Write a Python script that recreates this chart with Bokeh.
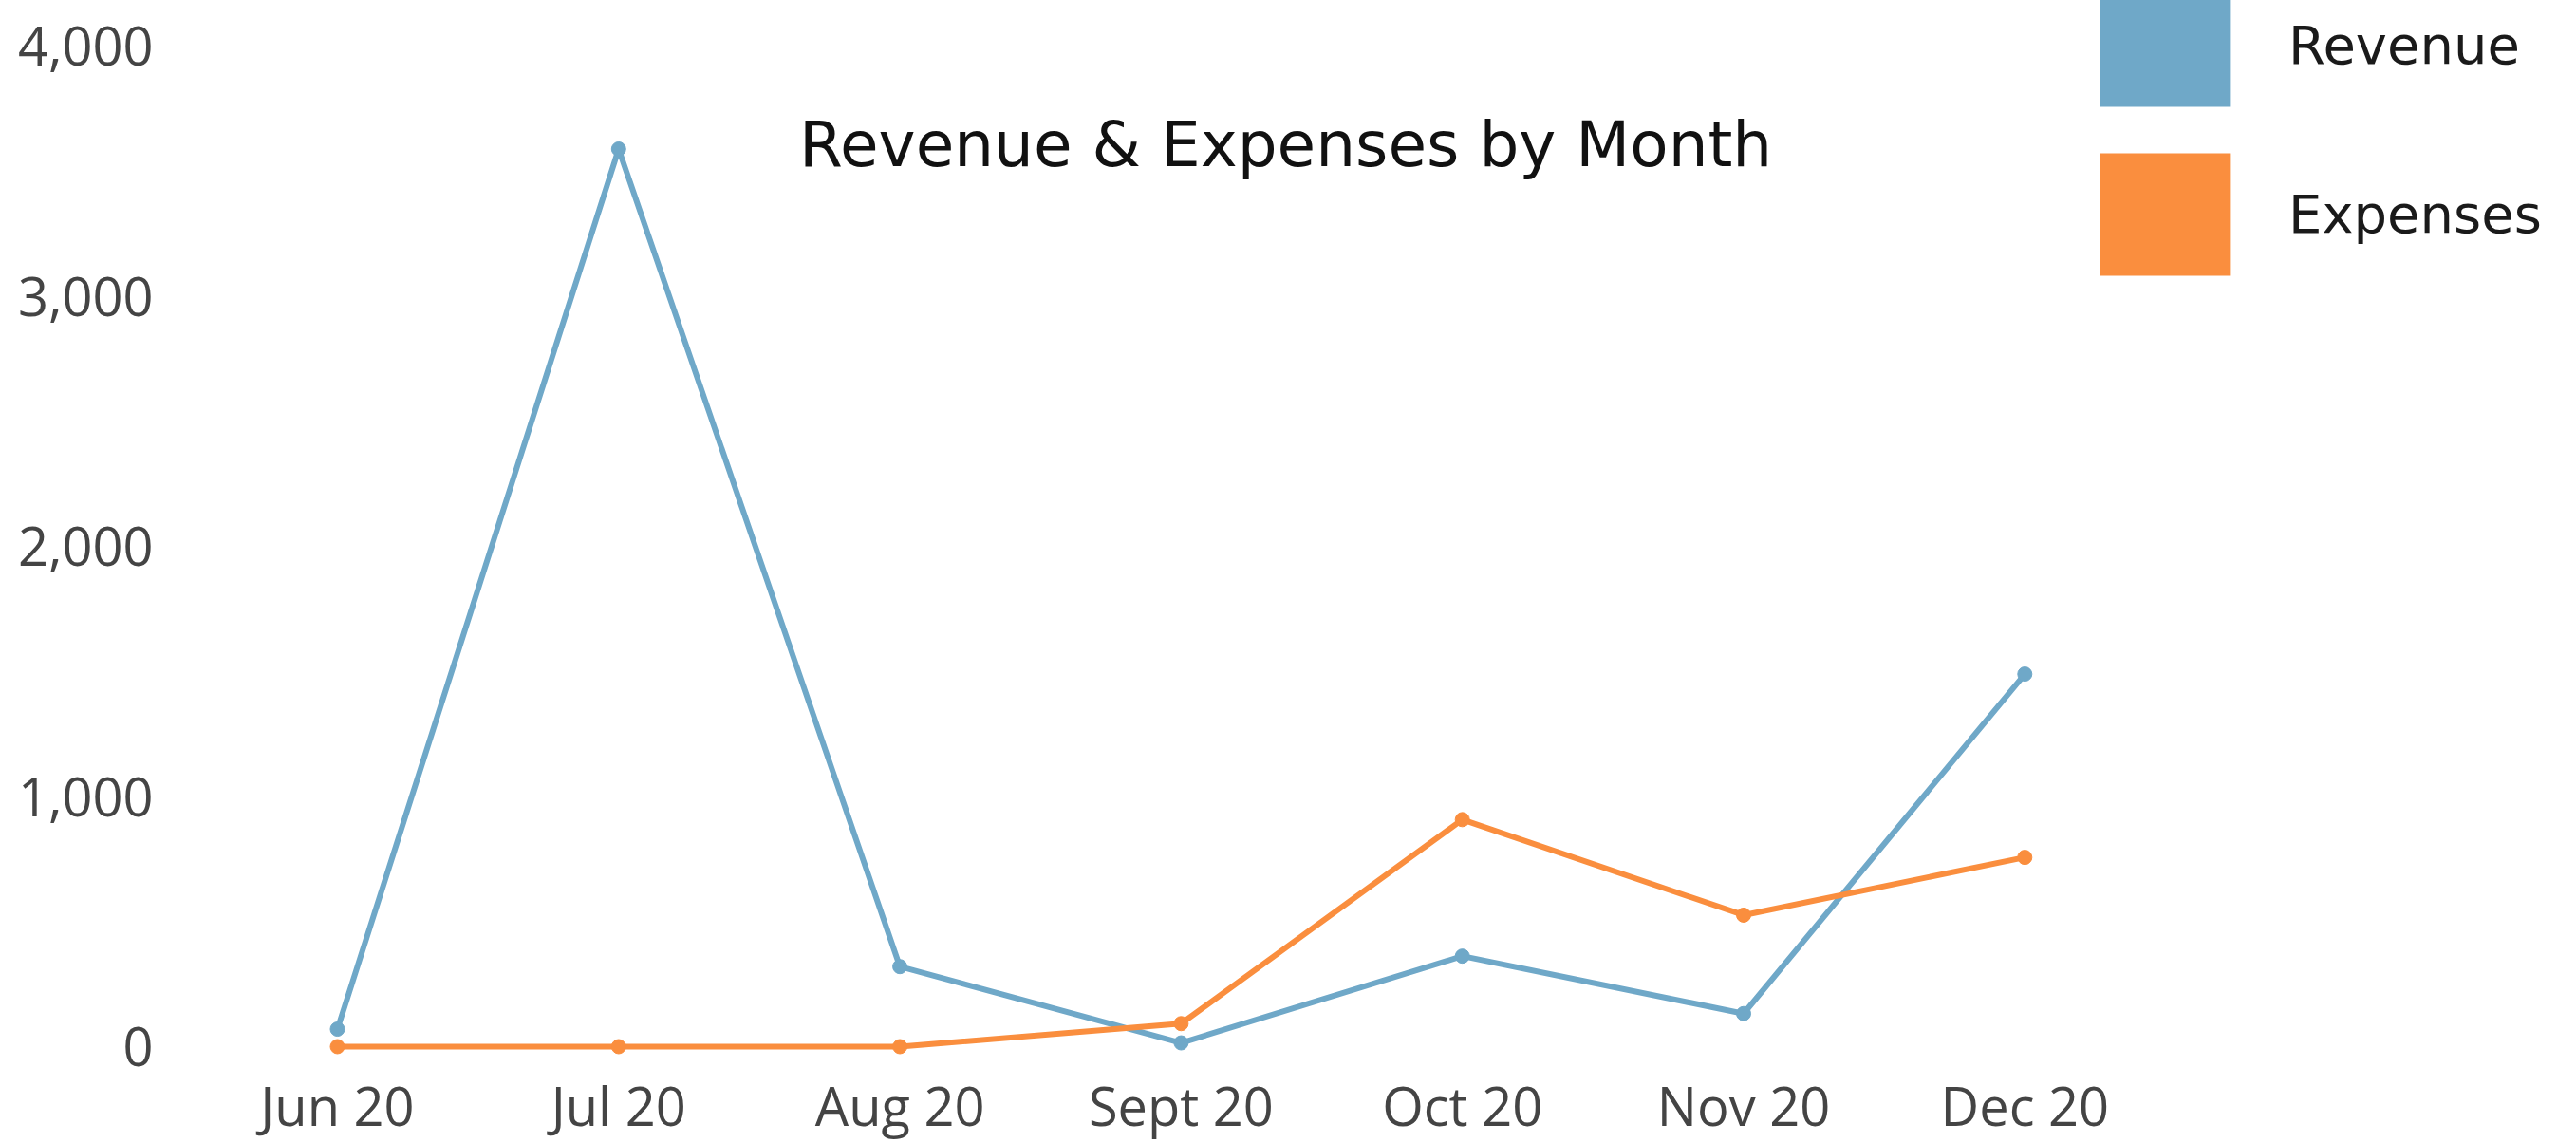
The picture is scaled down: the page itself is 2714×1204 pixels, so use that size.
from bokeh.plotting import figure
from bokeh.models import (Range1d, FixedTicker, NumeralTickFormatter, Label,
                          Legend, LegendItem, ColumnDataSource)
from bokeh.embed import file_html
from bokeh.resources import INLINE

months = ["Jun 20", "Jul 20", "Aug 20", "Sept 20", "Oct 20", "Nov 20", "Dec 20"]
revenue = [70, 3590, 320, 15, 362, 132, 1490]
expenses = [0, 0, 0, 92, 908, 526, 757]
y_ticks = [0, 1000, 2000, 3000, 4000]
title_text = "Revenue & Expenses by Month"

BLUE = "#6FA8C8"
ORANGE = "#FA8E3E"
NAN = float("nan")

xs = list(range(len(months)))
src = ColumnDataSource(dict(x=xs, rev=revenue, exp=expenses))

p = figure(width=2714, height=1204, output_backend="svg", toolbar_location=None,
           x_range=Range1d(-0.5231, 7.9615), y_range=Range1d(-49.4, 4184.1),
           min_border_left=200, min_border_right=0, min_border_top=0,
           min_border_bottom=89, background_fill_color="white",
           border_fill_color="white")
p.outline_line_color = None
p.xgrid.visible = False
p.ygrid.visible = False

for ax in (p.xaxis[0], p.yaxis[0]):
    ax.axis_line_color = None
    ax.major_tick_line_color = None
    ax.minor_tick_line_color = None
    ax.major_tick_out = 0
    ax.major_tick_in = 0
    ax.major_label_text_font = "Open Sans"
    ax.major_label_text_font_size = "56px"
    ax.major_label_text_color = "#444444"

p.xaxis.ticker = FixedTicker(ticks=xs)
p.xaxis.major_label_overrides = {i: m for i, m in zip(xs, months)}
p.xaxis.major_label_standoff = 10
p.yaxis.ticker = FixedTicker(ticks=y_ticks)
p.yaxis.formatter = NumeralTickFormatter(format="0,0")
p.yaxis.major_label_standoff = 39

p.line("x", "rev", source=src, line_color=BLUE, line_width=6)
p.scatter("x", "rev", source=src, size=15, fill_color=BLUE, line_color=BLUE)
p.line("x", "exp", source=src, line_color=ORANGE, line_width=6)
p.scatter("x", "exp", source=src, size=15, fill_color=ORANGE, line_color=ORANGE)

# legend swatches (quads with no visible extent, used only for the legend)
q_rev = p.quad(left=[NAN], right=[NAN], top=[NAN], bottom=[NAN],
               fill_color=BLUE, line_color=None)
q_exp = p.quad(left=[NAN], right=[NAN], top=[NAN], bottom=[NAN],
               fill_color=ORANGE, line_color=None)
legend = Legend(items=[LegendItem(label="Revenue", renderers=[q_rev]),
                       LegendItem(label="Expenses", renderers=[q_exp])],
                location=(1995, 809), orientation="vertical",
                glyph_width=171, glyph_height=161, label_height=161,
                spacing=17, label_standoff=45, padding=0, margin=0,
                border_line_color=None, background_fill_alpha=0,
                label_text_font="DejaVu Sans", label_text_font_size="56px",
                label_text_color="#1a1a1a")
p.add_layout(legend)

p.add_layout(Label(x=3.372, y=3607, text=title_text, text_align="center",
                   text_baseline="middle", text_font="DejaVu Sans",
                   text_font_size="66px", text_color="#111111"))

open("out.html", "w").write(file_html(p, INLINE))
